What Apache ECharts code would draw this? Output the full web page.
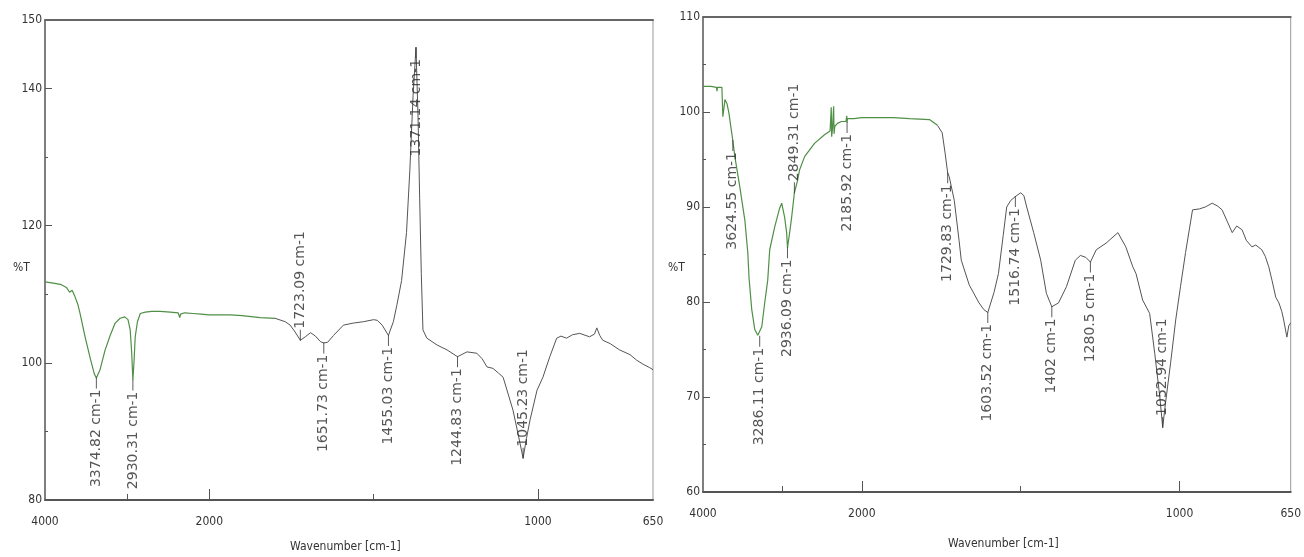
<!DOCTYPE html>
<html>
<head>
<meta charset="utf-8">
<script src="https://cdn.jsdelivr.net/npm/echarts@6/dist/echarts.min.js"></script>
<style>
html, body { margin: 0; padding: 0; background: #fff; }
#chart { width: 1304px; height: 557px; }
</style>
</head>
<body>
<div id="chart"></div>
<script>
// left spectrum (wavenumber cm-1, %T)
var leftWn = [4000, 3880, 3800, 3740, 3700, 3670, 3640, 3600, 3575, 3512, 3450, 3400, 3374.82, 3330, 3268, 3207, 3146, 3085, 3030, 2990, 2963, 2945, 2930.31, 2915, 2902, 2875, 2840, 2780, 2700, 2600, 2475, 2380, 2360, 2350, 2330, 2300, 2200, 2100, 2000, 1936, 1900, 1845, 1800, 1769, 1754, 1739, 1723.09, 1708, 1692, 1677, 1662, 1651.73, 1640, 1622, 1592, 1562, 1531, 1500, 1489, 1474, 1455.03, 1440, 1429, 1415, 1400, 1390, 1380, 1371.14, 1365, 1360, 1355, 1350, 1338, 1307, 1277, 1244.83, 1216, 1186, 1170, 1155, 1137, 1120, 1106, 1076, 1060, 1045.23, 1035, 1024, 1003, 985, 964, 943, 930, 913, 895, 873, 843, 828, 821, 812, 803, 780, 752, 720, 700, 680, 660, 650];
var leftT = [111.8, 111.6, 111.4, 111.0, 110.3, 110.6, 109.8, 108.5, 107.3, 103.8, 100.7, 98.4, 97.8, 99.0, 101.9, 104.0, 105.8, 106.5, 106.7, 106.3, 104.8, 101.5, 97.5, 100.5, 103.8, 106.0, 107.2, 107.4, 107.5, 107.5, 107.4, 107.3, 106.6, 107.1, 106.9, 107.3, 107.2, 107.1, 107.0, 107.0, 106.9, 106.6, 106.5, 106.0, 105.5, 104.5, 103.3, 103.8, 104.4, 103.9, 103.1, 102.9, 103.0, 104.0, 105.5, 105.8, 106.0, 106.3, 106.2, 105.5, 104.0, 106.0, 108.5, 112.0, 119, 128, 139, 146, 136, 124, 113, 104.8, 103.6, 102.6, 101.9, 100.9, 101.6, 101.4, 100.6, 99.4, 99.2, 98.5, 97.9, 93.1, 89.5, 86.1, 89.0, 91.7, 96.0, 97.9, 100.9, 103.6, 103.9, 103.6, 104.1, 104.3, 103.8, 104.2, 105.1, 104.0, 103.3, 102.8, 101.9, 101.2, 100.4, 99.8, 99.3, 99.0];
var leftPeakWn = [3374.82, 2930.31, 1723.09, 1651.73, 1455.03, 1371.14, 1244.83, 1045.23];
var leftPeakT = [97.8, 97.5, 103.3, 102.9, 104.0, 146, 100.9, 86.1];

// right spectrum
var rightWn = [4000, 3900, 3830, 3824, 3818, 3762, 3750, 3735, 3724, 3699, 3674, 3649, 3624.55, 3599, 3536, 3473, 3436, 3420, 3386, 3348, 3310, 3286.11, 3260, 3223, 3185, 3160, 3097, 3034, 3009, 2972, 2947, 2936.09, 2909, 2884, 2849.31, 2809, 2784, 2721, 2596, 2470, 2400, 2385, 2380, 2370, 2355, 2350, 2340, 2307, 2257, 2200, 2190, 2185.92, 2180, 2100, 2000, 1900, 1850, 1787, 1762, 1747, 1738, 1731, 1729.83, 1725, 1709, 1694, 1687, 1662, 1631, 1616, 1603.52, 1584, 1570, 1555, 1544, 1531, 1516.74, 1500, 1490, 1481, 1459, 1437, 1419, 1402, 1381, 1356, 1328, 1312, 1295, 1280.5, 1262, 1231, 1194, 1169, 1147, 1137, 1116, 1094, 1078, 1062, 1052.94, 1044, 1028, 1012, 997, 981, 959, 937, 919, 897, 880, 866, 850, 834, 820, 803, 790, 772, 760, 741, 730, 719, 709, 697, 687, 678, 672, 662, 656, 650];
var rightT = [102.7, 102.7, 102.6, 102.2, 102.6, 102.6, 99.5, 100.5, 101.3, 100.9, 99.9, 98.4, 97.0, 95.3, 92.1, 88.6, 85.2, 82.5, 79.2, 77.1, 76.5, 76.4, 77.4, 79.9, 82.3, 85.5, 87.9, 89.9, 90.4, 88.9, 87.3, 85.7, 87.3, 88.9, 91.5, 92.8, 93.9, 95.3, 96.7, 97.6, 98.0, 100.5, 97.4, 98.2, 100.6, 97.7, 98.5, 98.8, 99.0, 99.0, 99.6, 98.9, 99.3, 99.3, 99.4, 99.4, 99.3, 99.2, 98.6, 97.8, 95.7, 93.9, 93.6, 93.2, 90.7, 86.5, 84.4, 81.8, 79.9, 79.2, 78.9, 81.0, 83.0, 87.0, 90.0, 90.7, 91.1, 91.5, 91.2, 90.0, 87.3, 84.4, 80.9, 79.5, 79.9, 81.6, 84.4, 84.9, 84.7, 84.2, 85.5, 86.2, 87.3, 85.8, 83.7, 83.0, 80.2, 78.8, 74.6, 70.0, 66.8, 69.4, 73.6, 78.1, 81.6, 85.2, 89.7, 89.8, 90.0, 90.4, 90.1, 89.7, 88.5, 87.3, 88.0, 87.6, 86.5, 85.8, 86.0, 85.5, 84.8, 83.7, 82.3, 80.5, 79.9, 79.0, 78.1, 76.3, 77.5, 77.8];
var rightPeakWn = [3624.55, 3286.11, 2936.09, 2849.31, 2185.92, 1729.83, 1603.52, 1516.74, 1402, 1280.5, 1052.94];
var rightPeakT = [97.0, 76.4, 85.7, 91.5, 98.9, 93.6, 78.9, 91.1, 79.5, 84.2, 66.8];

// ticks
var xTickLabels = [4000, 2000, 1000, 650];
var xMajorTicks = [2000, 1000];
var xMinorTicks = [3000, 1500];
var leftYLabels = [80, 100, 120, 140, 150];
var leftYMajor = [100, 120, 140];
var leftYMinor = [90, 110, 130];
var rightYLabels = [60, 70, 80, 90, 100, 110];
var rightYMajor = [70, 80, 90, 100];
var rightYMinor = [65, 75, 85, 95, 105];

// peaks whose label sits above the mark
var labelAbove = [1723.09, 1045.23, 2849.31, 1052.94];

// x scale is compressed 4x above 2000 cm-1
function xt(w) { return w > 2000 ? 2000 + (w - 2000) / 4 : w; }
function xinv(t) { return t > 2000 ? Math.round(2000 + (t - 2000) * 4) : Math.round(t); }

var axisFont = { fontFamily: 'DejaVu Sans Condensed, sans-serif', fontSize: 12, color: '#333' };

function makeXAxes(gi) {
  var base = { type: 'value', gridIndex: gi, min: 650, max: 2500, inverse: true, splitLine: { show: false } };
  return [
    Object.assign({}, base, {
      position: 'bottom',
      axisLine: { onZero: false, lineStyle: { color: '#555', width: 2 } },
      axisTick: { inside: true, length: 11, customValues: xMajorTicks.map(xt), lineStyle: { color: '#555' } },
      axisLabel: Object.assign({ margin: 16, customValues: xTickLabels.map(xt), formatter: function (v) { return String(xinv(v)); } }, axisFont)
    }),
    Object.assign({}, base, {
      position: 'bottom',
      axisLine: { show: false, onZero: false },
      axisTick: { inside: true, length: 6, customValues: xMinorTicks.map(xt), lineStyle: { color: '#555' } },
      axisLabel: { show: false }
    }),
    Object.assign({}, base, {
      position: 'top',
      axisLine: { onZero: false, lineStyle: { color: '#666', width: 2 } },
      axisTick: { show: false },
      axisLabel: { show: false }
    })
  ];
}

function makeYAxes(gi, min, max, labels, major, minor) {
  var base = { type: 'value', gridIndex: gi, min: min, max: max, position: 'left', splitLine: { show: false } };
  return [
    Object.assign({}, base, {
      axisLine: { show: true, onZero: false, lineStyle: { color: '#666', width: 1.5 } },
      axisTick: { show: true, inside: true, length: 7, customValues: major, lineStyle: { color: '#555' } },
      axisLabel: Object.assign({ margin: 3, customValues: labels }, axisFont)
    }),
    Object.assign({}, base, {
      axisLine: { show: false, onZero: false },
      axisTick: { show: true, inside: true, length: 3, customValues: minor, lineStyle: { color: '#555' } },
      axisLabel: { show: false }
    })
  ];
}

function lineSeries(wn, t, split, xi, yi) {
  var green = [], gray = [];
  for (var i = 0; i < wn.length; i++) {
    var p = [xt(wn[i]), t[i]];
    if (wn[i] >= split) green.push(p);
    if (wn[i] <= split) gray.push(p);
  }
  var common = { type: 'line', xAxisIndex: xi, yAxisIndex: yi, showSymbol: false, symbol: 'none', animation: false };
  return [
    Object.assign({}, common, { data: green, lineStyle: { color: '#4f8f46', width: 1.2 } }),
    Object.assign({}, common, { data: gray, lineStyle: { color: '#555', width: 1 } })
  ];
}

function peakSeries(wn, t, xi, yi) {
  var data = wn.map(function (w, i) {
    var up = labelAbove.indexOf(w) >= 0;
    return {
      name: w + ' cm-1',
      value: [xt(w), t[i]],
      symbolOffset: [0, up ? -5 : 5],
      label: up
        ? { position: 'top', align: 'left' }
        : { position: 'bottom', align: 'right' }
    };
  });
  return {
    type: 'scatter', xAxisIndex: xi, yAxisIndex: yi, z: 5,
    symbol: 'rect', symbolSize: [1, 11],
    itemStyle: { color: '#333' },
    label: {
      show: true, rotate: 90, distance: 1, verticalAlign: 'middle',
      formatter: '{b}', fontFamily: 'DejaVu Sans, sans-serif', fontSize: 14, color: '#2a2a2a'
    },
    data: data
  };
}

var titleFont = '12px "DejaVu Sans Condensed", sans-serif';

var option = {
  animation: false,
  backgroundColor: '#fff',
  grid: [
    { left: 45, top: 20, width: 608, height: 480, show: true, borderColor: '#999', borderWidth: 1 },
    { left: 703, top: 17, width: 590, height: 475, show: true, borderColor: '#999', borderWidth: 1 }
  ],
  xAxis: makeXAxes(0).concat(makeXAxes(1)),
  yAxis: makeYAxes(0, 80, 150, leftYLabels, leftYMajor, leftYMinor)
    .concat(makeYAxes(1, 60, 110, rightYLabels, rightYMajor, rightYMinor)),
  series: lineSeries(leftWn, leftT, 1800, 0, 0)
    .concat([peakSeries(leftPeakWn, leftPeakT, 0, 0)])
    .concat(lineSeries(rightWn, rightT, 1762, 3, 2))
    .concat([peakSeries(rightPeakWn, rightPeakT, 3, 2)]),
  graphic: [
    { type: 'text', left: 13, top: 262, style: { text: '%T', font: titleFont, fill: '#333' } },
    { type: 'text', left: 668, top: 262, style: { text: '%T', font: titleFont, fill: '#333' } },
    { type: 'text', left: 290, top: 541, style: { text: 'Wavenumber [cm-1]', font: titleFont, fill: '#333' } },
    { type: 'text', left: 948, top: 538, style: { text: 'Wavenumber [cm-1]', font: titleFont, fill: '#333' } }
  ]
};

var mychart = echarts.init(document.getElementById('chart'));
mychart.setOption(option);
</script>
</body>
</html>
